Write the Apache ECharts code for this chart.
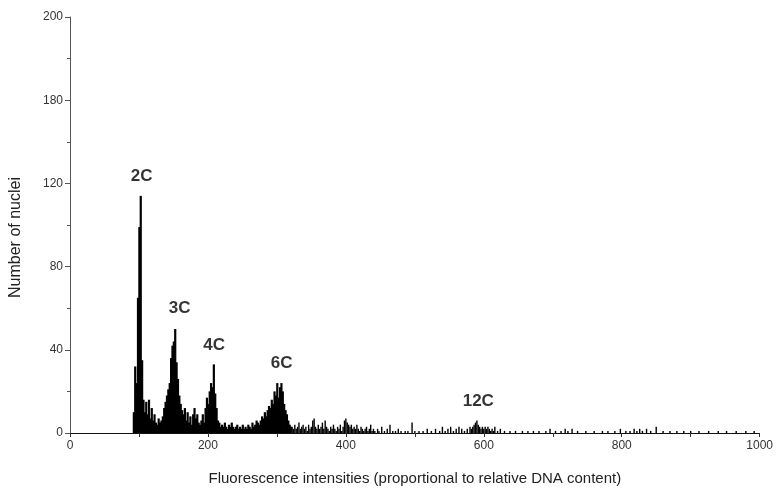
<!DOCTYPE html>
<html>
<head>
<meta charset="utf-8">
<script src="https://cdn.jsdelivr.net/npm/echarts@6/dist/echarts.min.js"></script>
<style>html,body{margin:0;padding:0;background:#fff}#c{width:776px;height:491px}</style>
</head>
<body>
<div id="c"></div>
<script>
// Dense region: heights per 2-unit channel bin, starting at channel 92
var denseStart = 92;
var denseStep = 2;
var denseCounts = [
  10, 32, 24, 65, 99, 114, 35, 16, 10, 15,
  9, 16, 7, 12, 6, 9, 5, 4, 7, 5,
  6, 8, 12, 15, 18, 21, 24, 36, 42, 44,
  50, 34, 26, 18, 14, 11, 9, 12, 6, 10,
  5, 8, 4, 9, 12, 7, 9, 5, 4, 6,
  9, 5, 12, 17, 14, 20, 24, 22, 33, 19,
  12, 6, 5, 3, 4, 3, 5, 3, 2, 4,
  3, 5, 3, 2, 3, 4, 2, 3, 2, 4,
  2, 3, 2, 4, 3, 2, 5, 3, 4, 6,
  5, 4, 6, 8, 7, 10, 8, 11, 13, 12,
  16, 14, 20, 18, 24, 17, 22, 24, 20, 14,
  11, 9, 6, 4, 3
];
// Sparse tail: [channel, count]
var tailData = [
  [322,3],[324,2],[326,4],[328,2],[330,3],[332,5],[334,2],[336,3],[338,4],[340,2],
  [342,3],[344,1],[346,4],[348,2],[350,3],[352,6],[354,7],[356,3],[358,2],[360,4],
  [362,2],[364,3],[366,5],[368,2],[370,6],[372,3],[374,2],[376,1],[378,3],[380,2],
  [382,4],[384,2],[386,1],[388,3],[390,2],[392,4],[394,1],[396,3],[398,6],[400,7],
  [402,5],[404,4],[406,3],[408,4],[410,2],[412,3],[414,2],[416,4],[418,2],[420,1],
  [422,3],[424,2],[426,1],[428,2],[430,3],[432,1],[434,2],[436,4],[438,1],[440,2],
  [442,1],[446,2],[448,1],[452,3],[456,1],[460,2],[464,4],[468,1],[472,1],[476,2],
  [480,1],[486,1],[490,1],[496,5],[500,1],[506,1],[512,1],[518,2],[524,1],[530,2],
  [536,1],[540,3],[544,1],[548,2],[552,3],[556,1],[560,2],[564,3],[568,2],[572,1],
  [576,2],[580,3],[582,2],[584,3],[586,4],[588,5],[590,6],[592,4],[594,3],[596,2],
  [598,3],[600,2],[602,3],[604,2],[606,3],[608,2],[610,1],[612,2],[614,1],[616,3],
  [620,1],[624,2],[630,1],[638,1],[646,1],[656,1],[664,1],[672,1],[680,1],[690,1],
  [696,2],[704,1],[712,1],[718,2],[722,1],[728,2],[736,1],[748,1],[760,1],[772,1],
  [780,1],[790,1],[798,2],[806,1],[812,1],[818,2],[822,1],[826,2],[830,1],[836,2],
  [842,1],[850,3],[860,1],[870,1],[880,1],[890,1],[900,1],[912,1],[926,1],[940,1],
  [952,1],[966,1],[980,1],[992,1]
];
// Peak annotations
var peakNames = ['2C', '3C', '4C', '6C', '12C'];
var peakX = [104, 159, 209, 307, 592];
var peakY = [123.5, 60, 42, 33.5, 15.3];
// Axis tick labels (as printed on the original)
var xTickLabels = {0:'0', 200:'200', 400:'400', 600:'600', 800:'800', 1000:'1000'};
var yTickLabels = ['0', '40', '80', '120', '180', '200'];

var denseData = denseCounts.map(function (c, i) { return [denseStart + i * denseStep, c]; });
var peakData = peakNames.map(function (n, i) { return {name: n, value: [peakX[i], peakY[i]]}; });

var chart = echarts.init(document.getElementById('c'), null, {renderer: 'canvas'});
var font = '"Liberation Sans", Arial, sans-serif';
chart.setOption({
  animation: false,
  backgroundColor: '#fff',
  grid: {left: 70, right: 13, top: 17, bottom: 56},
  xAxis: {
    type: 'value', min: 0, max: 1000, interval: 100,
    axisLine: {show: true, lineStyle: {color: '#111', width: 1}},
    axisTick: {show: true, length: 4, lineStyle: {color: '#333'}},
    splitLine: {show: false},
    axisLabel: {
      color: '#333', fontFamily: font, fontSize: 12, margin: 7,
      formatter: function (v) { return xTickLabels[v] !== undefined ? xTickLabels[v] : ''; }
    },
    name: 'Fluorescence intensities (proportional to relative DNA content)',
    nameLocation: 'middle', nameGap: 38,
    nameTextStyle: {color: '#222', fontFamily: font, fontSize: 15}
  },
  yAxis: {
    type: 'value', min: 0, max: 200, interval: 40,
    axisLine: {show: true, lineStyle: {color: '#555', width: 1}},
    axisTick: {show: true, length: 5, lineStyle: {color: '#555'}},
    minorTick: {show: true, splitNumber: 2, length: 3, lineStyle: {color: '#555'}},
    splitLine: {show: false},
    axisLabel: {
      color: '#333', fontFamily: font, fontSize: 12, margin: 7,
      formatter: function (v) { return yTickLabels[Math.round(v / 40)]; }
    },
    name: 'Number of nuclei',
    nameLocation: 'middle', nameGap: 46, nameRotate: 90,
    nameTextStyle: {color: '#222', fontFamily: font, fontSize: 16, padding: [0, 25, 0, 0]}
  },
  series: [
    {type: 'bar', data: denseData, barWidth: 2.2, itemStyle: {color: '#000'}, silent: true},
    {type: 'bar', data: tailData, barWidth: 1.4, barGap: '-100%', itemStyle: {color: '#000'}, silent: true},
    {
      type: 'scatter', data: peakData, symbolSize: 0, silent: true,
      label: {
        show: true, position: 'inside', formatter: '{b}',
        color: '#000', fontFamily: font, fontSize: 17, fontWeight: 'bold'
      }
    }
  ]
});
</script>
</body>
</html>
